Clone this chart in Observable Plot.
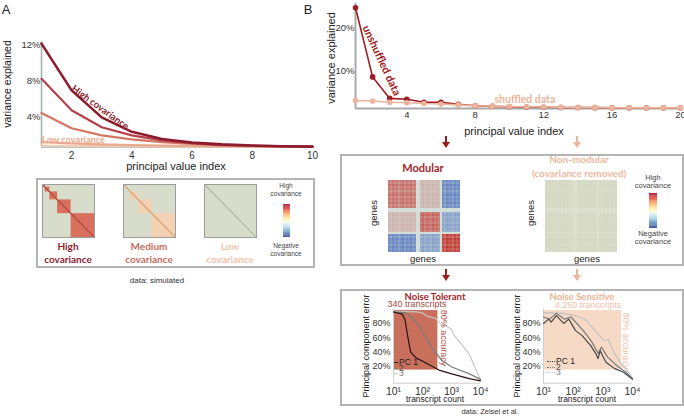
<!DOCTYPE html>
<html><head><meta charset="utf-8">
<script src="https://cdn.jsdelivr.net/npm/d3@7"></script>
<script src="https://cdn.jsdelivr.net/npm/@observablehq/plot@0.6"></script>
<style>
body{margin:0;background:#fff;}
#fig{position:relative;width:684px;height:418px;overflow:hidden;background:#fff;font-family:"Liberation Sans",Arial,sans-serif;color:#222;}
.lbl{position:absolute;white-space:nowrap;line-height:1;}
.bold{font-family:Lato,"Open Sans",sans-serif;font-weight:700;}
.box{position:absolute;border:2px solid #b4b4b4;box-sizing:border-box;}
</style></head><body><div id="fig"></div>
<script>
// ---------- DATA ----------
// Panel A: simulated variance explained per principal value index
const aIndex = [1,2,3,4,5,6,7,8,9,10];
const aSeries = ["high","mediumHigh","medium","low","none"];
const aColors = ["#8c1c2e","#b6404c","#d57663","#e8a98c","#f1cdb6"];
const aHigh       = [12.1,6.9,3.9,2.3,1.5,1.1,0.9,0.78,0.7,0.65];
const aMediumHigh = [8.2,4.7,2.8,1.9,1.35,1.05,0.85,0.75,0.68,0.64];
const aMedium     = [4.4,2.7,1.9,1.45,1.15,0.95,0.8,0.72,0.67,0.64];
const aLow        = [1.15,1.0,0.9,0.82,0.77,0.73,0.7,0.68,0.66,0.64];
const aNone       = [0.75,0.73,0.71,0.7,0.69,0.68,0.67,0.66,0.65,0.64];
const aXTicks = [2,4,6,8,10];
const aYTicks = [4,8,12];
// Panel A covariance matrices: diagonal blocks (fraction of genes)
const highBlocks = [[0,0.05],[0.05,0.14],[0.14,0.29],[0.29,0.55],[0.55,1]];
const mediumBlocks = [[0.14,0.29],[0.29,0.55],[0.55,1]];
const lowBlocks = [];

// Panel B: variance explained, real data
const bIndex = [1,2,3,4,5,6,7,8,9,10,11,12,13,14,15,16,17,18,19,20];
const bUnshuffled = [24.6,8.5,3.5,3.3,2.6,2.6,2.1,1.8,1.65,1.55,1.5,1.45,1.4,1.38,1.35,1.33,1.3,1.3,1.3,1.3];
const bShuffled   = [3.0,2.9,2.6,2.5,2.3,2.2,2.0,1.8,1.7,1.6,1.55,1.5,1.45,1.4,1.35,1.35,1.3,1.3,1.3,1.3];
const bXTicks = [4,8,12,16,20];
const bYTicks = [10,20];

// Modular covariance matrix: gene -> module (-1 = none), module covariance, gene loadings
const geneModule = [0,0,0,0,0,0,0,0,0,0,0,0,0,0,-1,-1,1,1,1,1,1,1,1,1,1,1,-1,2,2,2,2,2,2,2,2,2];
const moduleCov = [[0.5,0.2,-0.5],[0.2,0.55,-0.35],[-0.5,-0.35,0.7]];
const geneWeight = [0.95,0.8,1.0,0.85,0.95,0.75,0.9,1.0,0.8,0.95,0.85,1.0,0.8,0.9,0.4,0.35,0.85,1.0,0.8,0.95,0.9,0.8,1.0,0.85,0.95,0.8,0.4,0.95,0.8,1.0,0.9,0.95,0.8,1.0,0.85,0.95];
const residualCov = 0.04;

// Noise robustness curves (transcript count vs principal component error %)
const tolPC1x = [10,20,25,30,35,39,60,105,370,955,4070,10000];
const tolPC1y = [96,93,85,65,50,40,32,27,15,10,3,0];
const tolPC2x = [10,25,40,76,120,218,480,1070,4000,10000];
const tolPC2y = [96,95,90,77,63,45,28,19,10,2];
const tolPC3x = [10,60,95,150,280,400,610,1000,1300,1780,2500,4000,6700,10000];
const tolPC3y = [97,96,95,90,87,80,77,72,62,56,48,38,17,2];
const sensPC1x = [10,15,18,27,48,71,120,200,390,580,690,810,980,1280,2500,5000,10000];
const sensPC1y = [80,86,82,91,80,86,70,63,49,38,31,42,35,26,17,12,2];
const sensPC2x = [10,16,27,52,84,120,220,400,700,900,1450,3000,6000,10000];
const sensPC2y = [89,86,94,86,89,82,70,56,38,47,33,21,12,3];
const sensPC3x = [10,48,120,250,550,1100,1500,2200,4000,7000,10000];
const sensPC3y = [95,94,91,86,70,56,58,42,25,13,3];
const tolThreshold = 340, sensThreshold = 4250, accuracyError = 15;
const noiseXTicks = [10,100,1000,10000];
const noiseYTicks = [20,40,60,80];

// ---------- HELPERS ----------
const fig = document.getElementById("fig");
const sans = "'Liberation Sans', Arial, sans-serif";
const st = () => ({background:"transparent", overflow:"visible", fontFamily:sans, color:"#333"});
function place(node, left, top){ node.style.position="absolute"; node.style.left=left+"px"; node.style.top=top+"px"; fig.appendChild(node); return node; }
function label(text, x, y, o={}){
  const d=document.createElement("div"); d.className="lbl"+(o.bold?" bold":""); d.textContent=text;
  d.style.left=x+"px"; d.style.top=y+"px"; d.style.fontSize=(o.size||10)+"px"; d.style.color=o.color||"#222";
  const ax = o.anchor==="start" ? "0" : "-50%";
  d.style.transform=`translate(${ax},-50%) rotate(${o.rotate||0}deg)`;
  if (o.anchor==="start") d.style.transformOrigin="0 50%";
  fig.appendChild(d); return d;
}
function box(l,t,w,h){ const d=document.createElement("div"); d.className="box"; d.style.left=l+"px"; d.style.top=t+"px"; d.style.width=w+"px"; d.style.height=h+"px"; fig.appendChild(d); }
function arrow(x,y1,y2,color){
  const l=document.createElement("div"); l.style.cssText=`position:absolute;left:${x-1}px;top:${y1}px;width:2px;height:${y2-y1-5}px;background:${color}`; fig.appendChild(l);
  const h=document.createElement("div"); h.style.cssText=`position:absolute;left:${x-4}px;top:${y2-6}px;width:0;height:0;border-left:4px solid transparent;border-right:4px solid transparent;border-top:6px solid ${color}`; fig.appendChild(h);
}
function legendItem(x,y,len,color,dotted,text,tcolor){
  const l=document.createElement("div"); l.style.cssText=`position:absolute;left:${x}px;top:${y}px;width:${len}px;height:0;border-top:${dotted?"1.3px dotted":"1.5px solid"} ${color}`; fig.appendChild(l);
  label(text, x+len+1, y, {size:8.5, anchor:"start", color:tcolor});
}
const sup = {"1":"¹","2":"²","3":"³","4":"⁴"};
const expFmt = d => "10" + sup[String(Math.round(Math.log10(d)))];

// ---------- PANEL A ----------
label("A", 6, 9, {size:13});
const aVals = [aHigh, aMediumHigh, aMedium, aLow, aNone];
const aTable = aSeries.flatMap((s,k)=>aIndex.map((x,i)=>({s, x, v:aVals[k][i]})));
place(Plot.plot({
  width:330, height:175, marginLeft:41, marginRight:18, marginTop:41.3, marginBottom:28.4,
  style:st(), x:{domain:[1,10]}, y:{domain:[0.6,12.3]},
  marks:[
    Plot.axisX({ticks:aXTicks, tickSize:0, tickPadding:5, fontSize:10, label:null}),
    Plot.axisY({ticks:aYTicks, tickSize:0, tickPadding:1, fontSize:9.5, tickFormat:d=>d+"%", label:null}),
    Plot.ruleX([1],{stroke:"#a3aeb0", strokeWidth:1.5}),
    Plot.ruleY([0.6],{stroke:"#a3aeb0", strokeWidth:1.5}),
    ...aSeries.slice().reverse().map(s => Plot.line(aTable.filter(d=>d.s===s),{x:"x", y:"v", stroke:aColors[aSeries.indexOf(s)], strokeWidth:s==="high"?2.6:2.2})),
    Plot.text(["High covariance"],{x:2.95, y:5.0, rotate:36, fill:"#8c1c2e", fontSize:9.6, fontWeight:700, fontFamily:"Lato"}),
    Plot.text(["Low covariance"],{x:1.02, y:1.4, textAnchor:"start", fill:"#e9a88c", fontSize:9.2, fontWeight:700, fontFamily:"Lato"})
  ]
}), 0, 0);
label("variance explained", 7, 84, {size:10.5, rotate:-90});
label("principal value index", 176, 166, {size:11});

box(36,178,279,90);
function blockMatrix(blocks, blockColor, diagColor){
  return Plot.plot({width:52, height:53, margin:0, style:st(),
    x:{domain:[0,1], axis:null}, y:{domain:[0,1], reverse:true, axis:null},
    marks:[
      Plot.frame({fill:"#d7dccb"}),
      Plot.rect(blocks,{x1:d=>d[0], x2:d=>d[1], y1:d=>d[0], y2:d=>d[1], fill:blockColor}),
      Plot.link([[0,1]],{x1:d=>d[0], y1:d=>d[0], x2:d=>d[1], y2:d=>d[1], stroke:diagColor, strokeWidth:1.2}),
      Plot.frame({stroke:"#9c9c9c"})
    ]});
}
place(blockMatrix(highBlocks,"#d9705d","#b24a3e"), 42, 184);
place(blockMatrix(mediumBlocks,"#f2d2b2","#dca477"), 123, 184);
place(blockMatrix(lowBlocks,"#d7dccb","#b6b5a4"), 204, 184);
label("High",68,246,{bold:true,size:10,color:"#8c1c2e"}); label("covariance",68,259,{bold:true,size:10,color:"#8c1c2e"});
label("Medium",149,246,{bold:true,size:10,color:"#c56d5b"}); label("covariance",149,259,{bold:true,size:10,color:"#c56d5b"});
label("Low",230,246,{bold:true,size:10,color:"#f0c4aa"}); label("covariance",230,259,{bold:true,size:10,color:"#f0c4aa"});

const ramp = d3.range(-1, 1.0001, 0.05).map(v=>+v.toFixed(2));
function colorbar(w,h){
  return Plot.plot({width:w, height:h, margin:0, style:st(),
    y:{axis:null, domain:ramp.slice().reverse(), padding:0},
    color:{type:"linear", scheme:"rdylbu", reverse:true, domain:[-1,1]},
    marks:[Plot.cell(ramp,{y:d=>d, fill:d=>d})]});
}
place(colorbar(7,33), 283, 204);
label("High",286,186,{size:6.5,color:"#444"}); label("covariance",286,194,{size:6.5,color:"#444"});
label("Negative",286,246,{size:6.5,color:"#444"}); label("covariance",286,254,{size:6.5,color:"#444"});
label("data: simulated",157,281,{size:8,color:"#333"});

// ---------- PANEL B (top) ----------
label("B", 308, 9, {size:13});
const bTable = bIndex.flatMap((x,i)=>[{s:"unshuffled",x,v:bUnshuffled[i]},{s:"shuffled",x,v:bShuffled[i]}]);
const un = bTable.filter(d=>d.s==="unshuffled"), sh = bTable.filter(d=>d.s==="shuffled");
place(Plot.plot({
  width:354, height:140, marginLeft:25, marginRight:4, marginTop:2.9, marginBottom:32,
  style:st(), x:{domain:[1,20]}, y:{domain:[1.15,25.6]},
  marks:[
    Plot.axisX({ticks:bXTicks, tickSize:0, tickPadding:3, fontSize:9.5, label:null}),
    Plot.axisY({ticks:bYTicks, tickSize:0, tickPadding:1, fontSize:9.5, tickFormat:d=>d+"%", label:null}),
    Plot.ruleX([1],{stroke:"#a9a9a9", strokeWidth:2}),
    Plot.ruleY([1.15],{stroke:"#a9a9a9", strokeWidth:2}),
    Plot.line(un,{x:"x", y:"v", stroke:"#a01c22", strokeWidth:1.6}),
    Plot.dot(un,{x:"x", y:"v", fill:"#a01c22", r:2.8}),
    Plot.line(sh,{x:"x", y:"v", stroke:"#ebb49b", strokeWidth:1.6}),
    Plot.dot(sh,{x:"x", y:"v", fill:"#ebb49b", r:2.8}),
    Plot.text(["unshuffled data"],{x:2.52, y:12.3, rotate:65, fill:"#a01c22", fontSize:11, fontWeight:700, fontFamily:"Lato"}),
    Plot.text(["shuffled data"],{x:10.9, y:3.3, fill:"#ebb49b", fontSize:10.5, fontWeight:700, fontFamily:"Lato"})
  ]
}), 330, 0);
label("variance explained", 331, 58, {size:11, rotate:-90});
label("principal value index", 514, 131, {size:11});
arrow(446,136,148,"#9b1c1c");
arrow(577,136,148,"#ebb49b");

// ---------- PANEL B (matrices) ----------
box(340,154,344,112);
label("Modular",423,167,{bold:true,size:11,color:"#a3242a"});
const genes = geneModule.map((m,i)=>i);
const modCells = [], flatCells = [];
for (const i of genes) for (const j of genes) {
  const mi=geneModule[i], mj=geneModule[j];
  const c = (mi<0||mj<0) ? residualCov : moduleCov[mi][mj];
  modCells.push({i,j,v:geneWeight[i]*geneWeight[j]*c});
  flatCells.push({i,j,v:geneWeight[i]*geneWeight[j]*residualCov});
}
function heat(cells,w,h,domain,range){
  return Plot.plot({width:w,height:h,margin:0,style:st(),
    x:{axis:null,padding:0,domain:genes}, y:{axis:null,padding:0,domain:genes},
    color:{type:"linear",domain,range,clamp:true},
    marks:[Plot.cell(cells,{x:"i",y:"j",fill:"v"})]});
}
place(heat(modCells,88,78,[-0.7,0,0.7],["#3a5fb8","#d4e1dc","#c43a32"]),380,177);
label("genes",374,213,{size:9.5,rotate:-90}); label("genes",423,259,{size:9.5});
label("Non-modular",579,159,{bold:true,size:10,color:"#ebb89e"});
label("(covariance removed)",579,173,{bold:true,size:10,color:"#ebb89e"});
place(heat(flatCells,86,76,[0,0.04],["#e1e3d2","#d4d8c3"]),538,178);
label("genes",531,213,{size:9.5,rotate:-90}); label("genes",587,259,{size:9.5});
place(colorbar(8,35),649,193);
label("High",653,178,{size:7.5,color:"#444"}); label("covariance",653,186,{size:7.5,color:"#444"});
label("Negative",653,234,{size:7.5,color:"#444"}); label("covariance",653,242,{size:7.5,color:"#444"});
arrow(446,269,281,"#9b1c1c");
arrow(577,269,281,"#ebb49b");

// ---------- PANEL B (noise) ----------
box(340,289,344,117);
function noisePlot(lines, threshold, rectFill, w, mL, mR){
  return Plot.plot({width:w, height:105, marginLeft:mL, marginRight:mR, marginTop:13.6, marginBottom:17.3,
    style:st(), x:{type:"log", domain:[10,10000]}, y:{domain:[-3.3,100]},
    marks:[
      Plot.rect([threshold],{x1:10, x2:d=>d, y1:accuracyError, y2:98, fill:rectFill}),
      Plot.ruleX([10],{stroke:"#cfcfcf"}),
      Plot.ruleY([-3.3],{stroke:"#cfcfcf"}),
      ...lines.map(([xs,ys,c]) => Plot.line(xs.map((x,i)=>({x,y:ys[i]})),{x:"x",y:"y",stroke:c,strokeWidth:1.2})),
      Plot.axisX({ticks:noiseXTicks, tickFormat:expFmt, tickSize:0, tickPadding:4, fontSize:10.5, label:null}),
      Plot.axisY({ticks:noiseYTicks, tickFormat:d=>d+"%", tickSize:0, tickPadding:3, fontSize:9, label:null})
    ]});
}
place(noisePlot([[tolPC3x,tolPC3y,"#c6c6c6"],[tolPC2x,tolPC2y,"#7c7c7c"],[tolPC1x,tolPC1y,"#2a1212"]], tolThreshold, "#c8705c", 165, 53, 25), 340, 295);
place(noisePlot([[sensPC3x,sensPC3y,"#c2c2c2"],[sensPC2x,sensPC2y,"#7a7a7a"],[sensPC1x,sensPC1y,"#474747"]], sensThreshold, "#f6dac6", 174, 33, 52), 510, 295);

label("Noise Tolerant",435,297,{bold:true,size:9.5,color:"#a3242a"});
label("340 transcripts",417,304,{size:9,color:"#a8473b",});
label("80% accuracy",443,338,{size:9,rotate:90,color:"#b34e44"});
label("Principal component error",366,346,{size:9,rotate:-90});
label("transcript count",435,399,{size:8.5});
legendItem(394,362,4,"#2a1212",false,"PC 1","#222");
legendItem(394,367.5,4,"#7c7c7c",false,"2","#444");
legendItem(394,373,4,"#c6c6c6",false,"3","#777");

label("Noise Sensitive",582,297,{bold:true,size:9.5,color:"#eab596"});
label("4,250 transcripts",588,304.5,{size:9,color:"#eec0a6"});
label("80% accuracy",625,341,{size:9,rotate:90,color:"#eec0a6"});
label("Principal component error",517,346,{size:9,rotate:-90});
label("transcript count",587,399,{size:8.5});
legendItem(547,361,8,"#474747",true,"PC 1","#222");
legendItem(547,366.5,8,"#7a7a7a",true,"2","#444");
legendItem(547,372,8,"#c2c2c2",true,"3","#777");

label("data: Zeisel et al.",490,412,{size:7.5,color:"#333"});
</script></body></html>
